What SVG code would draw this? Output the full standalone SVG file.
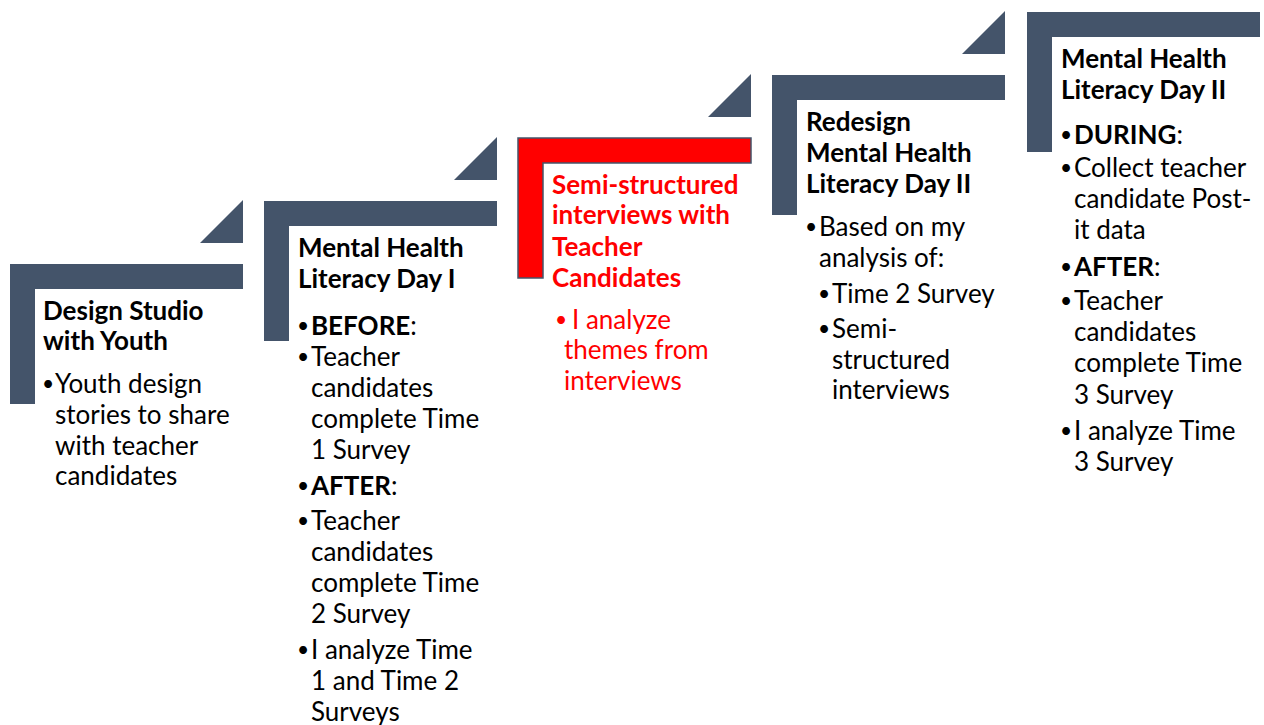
<svg xmlns="http://www.w3.org/2000/svg" width="1264" height="725" viewBox="0 0 1264 725">
<defs>
<style>
.sh{fill:#44546A}
.red{fill:#FF0000;stroke:#44546A;stroke-width:1.5}
text{font-family:Lato,"Liberation Sans",sans-serif;font-size:26px;fill:#000}
.t{font-weight:bold}
.r{fill:#FF0000}
.b{font-size:21px}
</style>
<path id="L" d="M0,0H233V25H25V140H0Z"/>
<path id="T" d="M190,-21H233V-64Z"/>
</defs>
<rect width="1264" height="725" fill="#fff"/>
<g id="step1">
<use href="#L" class="sh" x="10" y="264"/>
<use href="#T" class="sh" x="10" y="264"/>
<text class="t" x="43" y="320">Design Studio</text>
<text class="t" x="43" y="350">with Youth</text>
<text class="b" x="42" y="391">•</text><text x="55" y="393">Youth design</text>
<text x="55" y="424">stories to share</text>
<text x="55" y="455">with teacher</text>
<text x="55" y="485">candidates</text>
</g>
<g id="step2">
<use href="#L" class="sh" x="264" y="201"/>
<use href="#T" class="sh" x="264" y="201"/>
<text class="t" x="298" y="257">Mental Health</text>
<text class="t" x="298" y="288">Literacy Day I</text>
<text class="b" x="297" y="333">•</text><text x="311" y="335"><tspan class="t">BEFORE</tspan>:</text>
<text class="b" x="297" y="364">•</text><text x="311" y="366">Teacher</text>
<text x="311" y="397">candidates</text>
<text x="311" y="428">complete Time</text>
<text x="311" y="459">1 Survey</text>
<text class="b" x="297" y="493">•</text><text x="311" y="495"><tspan class="t">AFTER</tspan>:</text>
<text class="b" x="297" y="528">•</text><text x="311" y="530">Teacher</text>
<text x="311" y="561">candidates</text>
<text x="311" y="592">complete Time</text>
<text x="311" y="623">2 Survey</text>
<text class="b" x="297" y="657">•</text><text x="311" y="659">I analyze Time</text>
<text x="311" y="690">1 and Time 2</text>
<text x="311" y="721">Surveys</text>
</g>
<g id="step3">
<use href="#L" class="red" x="518" y="138"/>
<use href="#T" class="sh" x="518" y="138"/>
<text class="t r" x="552" y="194">Semi-structured</text>
<text class="t r" x="552" y="224">interviews with</text>
<text class="t r" x="552" y="256">Teacher</text>
<text class="t r" x="552" y="287">Candidates</text>
<text class="r b" x="555" y="327">•</text><text class="r" x="572" y="329">I analyze</text>
<text class="r" x="564" y="359">themes from</text>
<text class="r" x="564" y="390">interviews</text>
</g>
<g id="step4">
<use href="#L" class="sh" x="772" y="75"/>
<use href="#T" class="sh" x="772" y="75"/>
<text class="t" x="806" y="131">Redesign</text>
<text class="t" x="806" y="162">Mental Health</text>
<text class="t" x="806" y="193">Literacy Day II</text>
<text class="b" x="805" y="234">•</text><text x="819" y="236">Based on my</text>
<text x="819" y="267">analysis of:</text>
<text class="b" x="818" y="301">•</text><text x="832" y="303">Time 2 Survey</text>
<text class="b" x="818" y="336">•</text><text x="832" y="338">Semi-</text>
<text x="832" y="369">structured</text>
<text x="832" y="399">interviews</text>
</g>
<g id="step5">
<use href="#L" class="sh" x="1027" y="12"/>
<text class="t" x="1061" y="68">Mental Health</text>
<text class="t" x="1061" y="99">Literacy Day II</text>
<text class="b" x="1060" y="142">•</text><text x="1074" y="144"><tspan class="t">DURING</tspan>:</text>
<text class="b" x="1060" y="175">•</text><text x="1074" y="177">Collect teacher</text>
<text x="1074" y="208">candidate Post-</text>
<text x="1074" y="239">it data</text>
<text class="b" x="1060" y="274">•</text><text x="1074" y="276"><tspan class="t">AFTER</tspan>:</text>
<text class="b" x="1060" y="308">•</text><text x="1074" y="310">Teacher</text>
<text x="1074" y="341">candidates</text>
<text x="1074" y="372">complete Time</text>
<text x="1074" y="404">3 Survey</text>
<text class="b" x="1060" y="438">•</text><text x="1074" y="440">I analyze Time</text>
<text x="1074" y="471">3 Survey</text>
</g>
<g id="connectors"/>
</svg>
